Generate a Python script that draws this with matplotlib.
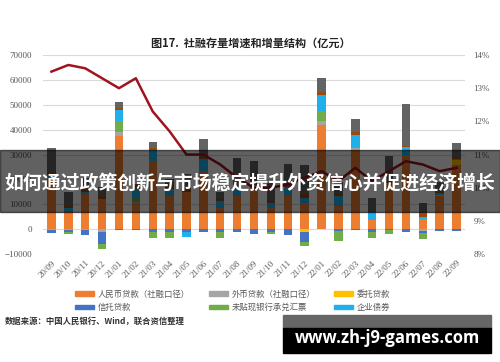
import matplotlib.pyplot as plt
import numpy as np
from matplotlib.patches import Rectangle, Patch

plt.rcParams['font.family'] = ['Liberation Serif', 'Noto Sans CJK SC', 'DejaVu Sans']

months = ['20/09', '20/10', '20/11', '20/12', '21/01', '21/02', '21/03', '21/04', '21/05',
          '21/06', '21/07', '21/08', '21/09', '21/10', '21/11', '21/12', '22/01', '22/02',
          '22/03', '22/04', '22/05', '22/06', '22/07', '22/08', '22/09']

# 亿元
rmb_loans = [20500, 6800, 14000, 11800, 37600, 10500, 27600, 13400, 14800, 23400, 8400, 13200, 16700,
             8400, 13600, 10400, 42000, 9200, 32000, 3600, 18500, 30000, 4300, 13500, 26000]
fx_loans = [-300, -400, -400, -1300, 1600, 600, 0, 0, 0, 0, 0, 0, 0,
            0, 0, 0, 1600, 0, 800, 0, 0, 0, -600, 0, 0]
entrusted = [0, 0, 0, 0, 0, 0, 0, 0, 0, 0, 0, 0, 0,
             0, 0, -1000, 0, 0, 0, 0, 0, 0, 0, 400, 2000]
trust = [-1300, -700, -1900, -4800, -400, -500, -1100, -1000, -1300, -1100, -1300, -1100, -2100,
         -1100, -2400, -4300, 0, -800, -200, -1000, -300, -1300, -900, -800, -700]
bills = [0, -1000, 0, -2000, 4400, 1800, -2600, -2600, 0, 0, -2400, 0, 0,
         -800, 0, -1600, 4000, -4000, 0, -2400, -1500, 0, -2500, 0, 0]
corp_bonds = [1400, 1900, 1000, 400, 4400, 3300, 4400, 2800, -2000, 5000, 2800, 3400, 1000,
              2000, 3200, 2000, 6400, 4000, 5200, 3200, 0, 3000, 700, 600, 200]
stocks = [1000, 800, 1000, 1000, 800, 1000, 800, 1000, 900, 600, 1100, 1200, 1200,
          1000, 1400, 1800, 1200, 800, 1200, 600, 800, 300, 1000, 500, 600]
gov_bonds = [9900, 5300, 4600, 3600, 2400, 1000, 2400, 3000, 6500, 7400, 2500, 11000, 8700,
             7000, 8200, 11800, 5600, 4800, 5200, 5000, 10000, 17100, 4400, 4000, 6000]
growth = [13.5, 13.7, 13.6, 13.3, 13.0, 13.3, 12.3, 11.7, 11.0, 11.0, 10.7, 10.3, 10.0,
          10.0, 10.1, 10.3, 10.5, 10.2, 10.6, 10.2, 10.5, 10.8, 10.7, 10.5, 10.6]

series = [
    ('人民币贷款（社融口径）', rmb_loans, '#ED7D31'),
    ('外币贷款（社融口径）', fx_loans, '#A5A5A5'),
    ('委托贷款', entrusted, '#FFC000'),
    ('信托贷款', trust, '#4472C4'),
    ('未贴现银行承兑汇票', bills, '#70AD47'),
    ('企业债券', corp_bonds, '#1FB0EC'),
    ('股票融资', stocks, '#9E480E'),
    ('政府债券', gov_bonds, '#636363'),
]

fig = plt.figure(figsize=(5, 3.62), dpi=100)
ax = fig.add_axes([0.086, 0.298, 0.844, 0.55])

x = np.arange(len(months))
pos_base = np.zeros(len(months))
neg_base = np.zeros(len(months))
for name, vals, col in series:
    v = np.array(vals, dtype=float)
    p = np.where(v > 0, v, 0)
    n = np.where(v < 0, v, 0)
    ax.bar(x, p, 0.5, bottom=pos_base, color=col, zorder=2)
    ax.bar(x, n, 0.5, bottom=neg_base, color=col, zorder=2)
    pos_base += p
    neg_base += n

ax.set_xlim(-0.5, len(months) - 0.5)
ax.set_ylim(-10000, 70000)
ax.set_yticks(np.arange(-10000, 70001, 10000))
ax.yaxis.grid(True, color='#D9D9D9', lw=0.8, zorder=0)
ax.set_xticks(x)
ax.set_xticklabels(months, rotation=45, ha='right', rotation_mode='anchor')
ax.tick_params(axis='both', length=0, labelsize=6.5, colors='#595959')
ax.tick_params(axis='y', pad=8)
for s in ax.spines.values():
    s.set_visible(False)

ax2 = ax.twinx()
ax2.plot(x, growth, color='#A0141E', lw=1.8, zorder=3)
ax2.set_ylim(8, 14)
ax2.set_yticks(range(8, 15))
ax2.set_yticklabels([f'{v}%' for v in range(8, 15)])
ax2.tick_params(axis='y', length=0, labelsize=6.5, colors='#595959', pad=6)
for s in ax2.spines.values():
    s.set_visible(False)

fig.text(0.502, 1 - 43 / 362, '图17.  社融存量增速和增量结构（亿元）', ha='center', va='center',
         fontsize=8, fontweight='bold', color='#222222', family=['Noto Sans CJK SC'])

handles = {name: Patch(color=col) for name, vals, col in series}
order = ['人民币贷款（社融口径）', '信托贷款', '外币贷款（社融口径）', '未贴现银行承兑汇票', '委托贷款', '企业债券']
leg = fig.legend([handles[k] for k in order], order, loc='upper left',
                 bbox_to_anchor=(0.135, 1 - 282 / 362), ncol=3, frameon=False,
                 prop={'family': ['Noto Sans CJK SC'], 'size': 6},
                 handlelength=2.3, handleheight=0.45, handletextpad=0.4,
                 columnspacing=2.3, labelspacing=0.55)
for t in leg.get_texts():
    t.set_color('#595959')

fig.text(0.01, 1 - 321 / 362, '数据来源：中国人民银行、Wind，联合资信整理', ha='left', va='center',
         fontsize=6, fontweight='bold', color='#333333', family=['Noto Sans CJK SC'])

# overlay band
fig.patches.append(Rectangle((0, 1 - 212 / 362), 1, 62 / 362, transform=fig.transFigure,
                             color='black', alpha=0.62, zorder=10))
fig.text(0.5, 1 - 183 / 362, '如何通过政策创新与市场稳定提升外资信心并促进经济增长', ha='center', va='center',
         fontsize=13.6, fontweight='bold', color='white', family=['Noto Sans CJK SC'], zorder=11)

# bottom-right box
fig.patches.append(Rectangle((283 / 500, 1 - 328 / 362), 208 / 500, 13 / 362, transform=fig.transFigure,
                             color='#666666', zorder=10))
fig.patches.append(Rectangle((283 / 500, 1 - 353 / 362), 208 / 500, 25 / 362, transform=fig.transFigure,
                             color='black', zorder=10))
fig.text(387 / 500, 1 - 338 / 362, 'www.zh-j9-games.com', ha='center', va='center',
         fontsize=12, fontweight='bold', color='white', family=['Open Sans'], zorder=11)

fig.savefig('out.png', dpi=100)
